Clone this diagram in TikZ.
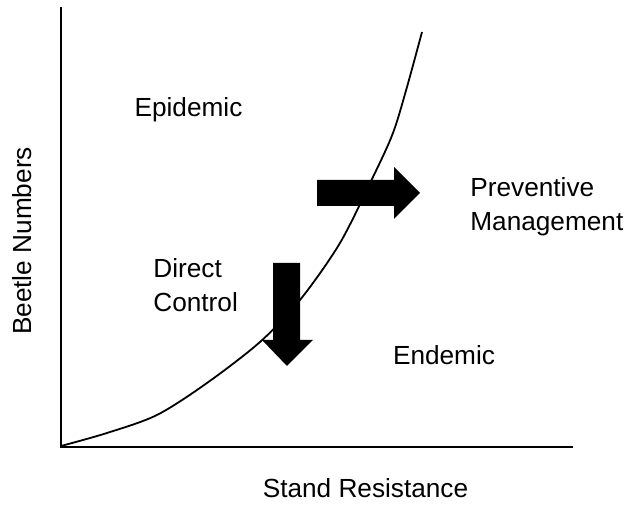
\documentclass[tikz,border=0pt]{standalone}
\usepackage{fontspec}
\setmainfont{Liberation Sans}
\begin{document}
\begin{tikzpicture}[x=0.5pt,y=-0.5pt,
	lbl/.style={font=\fontsize{13.1}{16.8}\selectfont, inner sep=0pt},
	blockarrow/.style={fill=black}]
	\useasboundingbox (0,0) rectangle (628,506);
	% axes
	\coordinate (o) at (61,447);
	\coordinate (ytop) at (61,7);
	\coordinate (xend) at (573,447);
	\draw[line width=1.35pt] (ytop)--(o)--(xend);
	
	% curve
	\draw[line width=0.9pt] plot[smooth, tension=0.5] coordinates {(61,446) (107,433) (157,415)
		(207,383) (260,342) (300,300) (340,243) (373,177) (393,133) (407,87) (422,32)};
	
	% LABELS
	\node[lbl, anchor=base] (epi) at (188.5,117) {Epidemic};
	\node[lbl, anchor=west, align=left] (dc) at (153,285) {Direct\\Control};
	\node[lbl, anchor=base] (end) at (444,365) {Endemic};
	\node[lbl, anchor=west, align=left] (pm) at (470,206.5) {Preventive\\Management};
	\node[lbl, anchor=base] (xlab) at (365.5,498) {Stand Resistance};
	\node[lbl, rotate=90, anchor=base] (ylab) at (32,241) {Beetle Numbers};
	
	% DRAW ARROWS
	\fill[blockarrow] (317,180)--(394,180)--(394,167)--(420,193)--(394,219)--(394,206)--(317,206)--cycle;
	\fill[blockarrow] (273,263)--(300,263)--(300,340)--(313,340)--(287,366)--(262,340)--(273,340)--cycle;
\end{tikzpicture}
\end{document}
